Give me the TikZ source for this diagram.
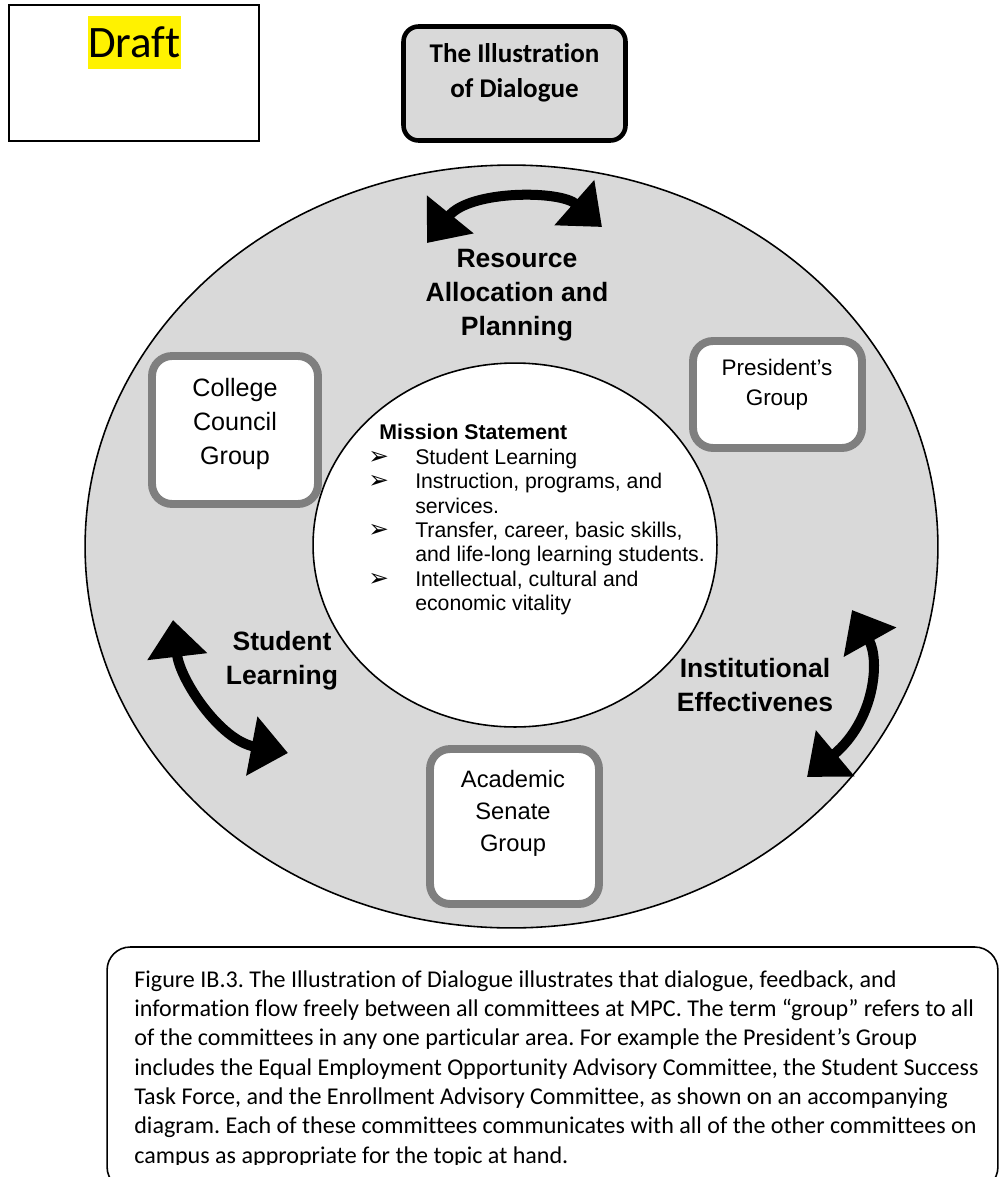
\documentclass[tikz,border=0pt]{standalone}
\usepackage{fontspec}
\setmainfont{Liberation Sans}
\newfontfamily\calibri[Ligatures={NoCommon}]{Carlito}
\newfontfamily\dingfont{DejaVu Sans}
\usepackage{tikz}
\usetikzlibrary{arrows.meta,positioning}
\definecolor{bandgray}{RGB}{217,217,217}
\definecolor{boxgray}{RGB}{127,127,127}
\newcommand{\missionbullet}{\makebox[26.7pt][l]{\dingfont\fontsize{14pt}{14pt}\selectfont ➢}}
\newcommand{\missionindent}{\hspace*{26.7pt}}
\frenchspacing
\begin{document}
\begin{tikzpicture}[x=0.02cm,y=-0.02cm,>=Latex,
draft box/.style={draw,line width=1pt,minimum width=5cm,minimum height=2.72cm,inner sep=0pt},
draft mark/.style={fill=yellow,inner xsep=0pt,inner ysep=0pt,minimum height=1.06cm,font=\calibri\fontsize{25.6pt}{30pt}\selectfont},
title box/.style={draw,line width=2.6pt,rounded corners=0.3cm,fill=bandgray,minimum width=4.44cm,minimum height=2.28cm},
title text/.style={align=center,inner sep=0pt,font=\calibri\bfseries\fontsize{15.4pt}{19.9pt}\selectfont},
group box/.style={draw=boxgray,line width=4.5pt,rounded corners=0.4cm,fill=white,inner sep=0pt},
group text/.style={align=center,inner sep=0pt},
band label/.style={align=center,inner sep=0pt,font=\bfseries\fontsize{15.1pt}{19.3pt}\selectfont},
mission text/.style={align=left,inner sep=0pt,anchor=north west,font=\fontsize{12.1pt}{13.9pt}\selectfont},
dialogue arrow/.style={{Triangle[length=21pt,width=33pt]}-{Triangle[length=21pt,width=33pt]},line width=5.7pt},
caption frame/.style={draw,line width=0.9pt,rounded corners=0.46cm,minimum width=17.82cm,minimum height=4.86cm},
caption text/.style={align=left,inner sep=0pt,anchor=north west,font=\calibri\fontsize{13.7pt}{16.7pt}\selectfont}]
\useasboundingbox (0,0) rectangle (1000,1177);
\node[draft box] (draftframe) at (134,73) {};
\node[draft mark] (draft) at (134.5,42.5) {Draft};
\node[title box] (title) at (514.5,83.5) {};
\node[title text] (titletxt) at (514.5,72.5) {The Illustration\\of Dialogue};
\draw[fill=bandgray,line width=0.9pt] (511.5,546.5) ellipse [x radius=8.53cm,y radius=7.63cm];
\draw[fill=white,line width=0.9pt] (515,545) ellipse [x radius=4.04cm,y radius=3.64cm];
\node[group box,minimum width=3.32cm,minimum height=2.96cm] (council) at (235,430) {};
\node[group text,font=\fontsize{14.3pt}{19.6pt}\selectfont] (counciltxt) at (235,424) {College\\Council\\Group};
\node[group box,minimum width=3.38cm,minimum height=2.14cm] (president) at (777.5,394.5) {};
\node[group text,font=\fontsize{12.8pt}{17pt}\selectfont] (presidenttxt) at (777,385) {President’s\\Group};
\node[group box,minimum width=3.38cm,minimum height=3.1cm] (senate) at (514.5,826.5) {};
\node[group text,font=\fontsize{13.5pt}{18.2pt}\selectfont] (senatetxt) at (513,813) {Academic\\Senate\\Group};
\node[band label] (resource) at (517,295) {Resource\\Allocation and\\Planning};
\node[band label] (learning) at (282,660.5) {Student\\Learning};
\node[band label] (effective) at (755,685) {Institutional\\Effectivenes};
\node[mission text] (mission) at (368,424) {\hspace*{6.3pt}\textbf{Mission Statement}\\
\missionbullet Student Learning\\
\missionbullet Instruction, programs, and\\
\missionindent services.\\
\missionbullet Transfer, career, basic skills,\\
\missionindent and life-long learning students.\\
\missionbullet Intellectual, cultural and\\
\missionindent economic vitality};
\coordinate (ral) at (427,243);
\coordinate (rar) at (602,227);
\draw[dialogue arrow] (ral) .. controls (470,190) and (560,190) .. (rar);
\coordinate (slt) at (173,620);
\coordinate (slb) at (288,753);
\draw[dialogue arrow] (slt) .. controls (180,680) and (220,740) .. (slb);
\coordinate (iet) at (852,610);
\coordinate (ieb) at (807,777);
\draw[dialogue arrow] (iet) .. controls (880,660) and (875,720) .. (ieb);
\node[caption frame] (capframe) at (552.5,1068.5) {};
\begin{scope}
\clip (107,947) rectangle (998,1164);
\node[caption text] (captxt) at (134,970) {Figure IB.3. The Illustration of Dialogue illustrates that dialogue, feedback, and\\
information flow freely between all committees at MPC. The term “group” refers to all\\
of the committees in any one particular area. For example the President’s Group\\
includes the Equal Employment Opportunity Advisory Committee, the Student Success\\
Task Force, and the Enrollment Advisory Committee, as shown on an accompanying\\
diagram. Each of these committees communicates with all of the other committees on\\
campus as appropriate for the topic at hand.};
\end{scope}
\end{tikzpicture}
\end{document}
